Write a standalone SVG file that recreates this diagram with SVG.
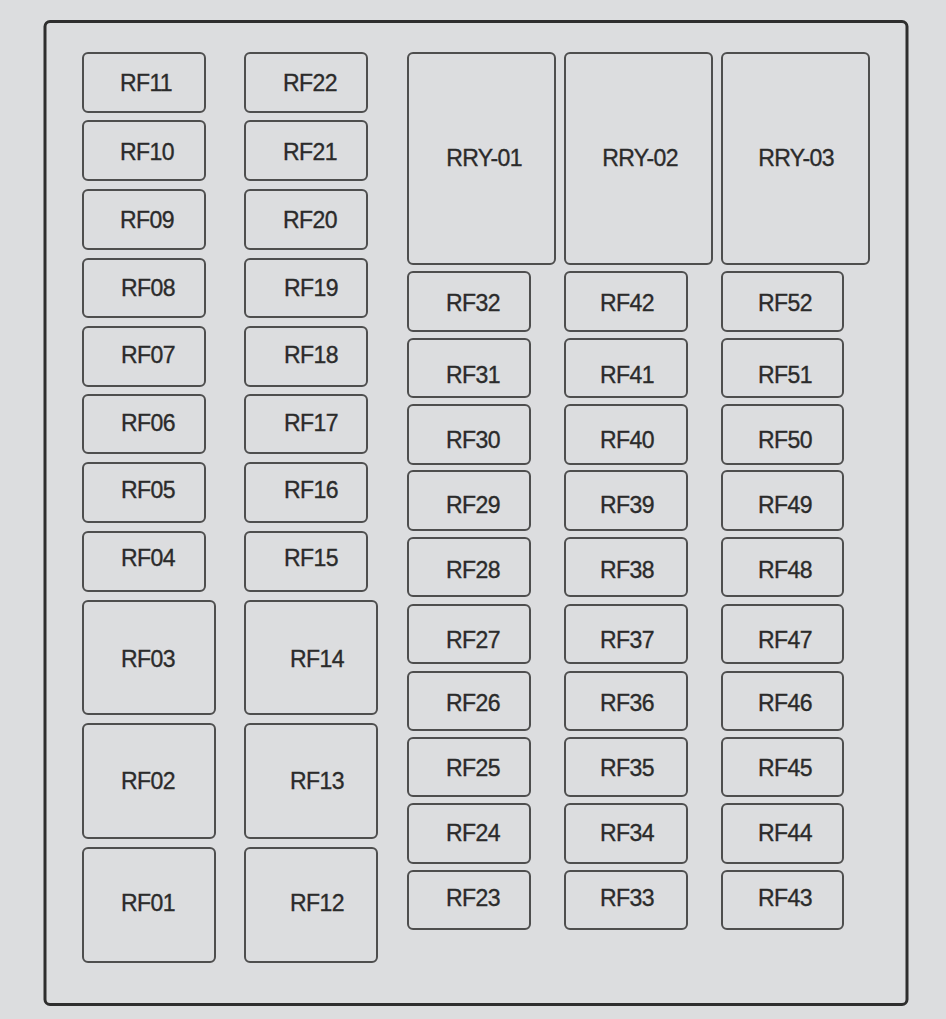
<svg xmlns="http://www.w3.org/2000/svg" width="946" height="1019" viewBox="0 0 946 1019">
<style>
.f{fill:#dcdddf;stroke:#4e4e4e;stroke-width:2}
.t{font-family:"Liberation Sans",Arial,sans-serif;font-size:23px;fill:#2b2b2b;stroke:#2b2b2b;stroke-width:0.35;text-anchor:middle;letter-spacing:-0.6px}
</style>
<rect x="0" y="0" width="946" height="1019" fill="#dcdddf"/>
<rect id="frame" x="45" y="21.5" width="862" height="983" rx="5" fill="#dcdddf" stroke="#2e2e2e" stroke-width="3"/>
<g id="RF11"><rect class="f" x="83" y="53" width="122" height="59" rx="5"/><text class="t" x="146" y="91">RF11</text></g>
<g id="RF10"><rect class="f" x="83" y="121" width="122" height="59" rx="5"/><text class="t" x="147" y="160">RF10</text></g>
<g id="RF09"><rect class="f" x="83" y="190" width="122" height="59" rx="5"/><text class="t" x="147" y="228">RF09</text></g>
<g id="RF08"><rect class="f" x="83" y="259" width="122" height="58" rx="5"/><text class="t" x="148" y="296">RF08</text></g>
<g id="RF07"><rect class="f" x="83" y="327" width="122" height="59" rx="5"/><text class="t" x="148" y="363">RF07</text></g>
<g id="RF06"><rect class="f" x="83" y="395" width="122" height="58" rx="5"/><text class="t" x="148" y="431">RF06</text></g>
<g id="RF05"><rect class="f" x="83" y="463" width="122" height="59" rx="5"/><text class="t" x="148" y="498">RF05</text></g>
<g id="RF04"><rect class="f" x="83" y="532" width="122" height="59" rx="5"/><text class="t" x="148" y="566">RF04</text></g>
<g id="RF03"><rect class="f" x="83" y="601" width="132" height="113" rx="5"/><text class="t" x="148" y="667">RF03</text></g>
<g id="RF02"><rect class="f" x="83" y="724" width="132" height="114" rx="5"/><text class="t" x="148" y="789">RF02</text></g>
<g id="RF01"><rect class="f" x="83" y="848" width="132" height="114" rx="5"/><text class="t" x="148" y="911">RF01</text></g>
<g id="RF22"><rect class="f" x="245" y="53" width="122" height="59" rx="5"/><text class="t" x="310" y="91">RF22</text></g>
<g id="RF21"><rect class="f" x="245" y="121" width="122" height="59" rx="5"/><text class="t" x="310" y="160">RF21</text></g>
<g id="RF20"><rect class="f" x="245" y="190" width="122" height="59" rx="5"/><text class="t" x="310" y="228">RF20</text></g>
<g id="RF19"><rect class="f" x="245" y="259" width="122" height="58" rx="5"/><text class="t" x="311" y="296">RF19</text></g>
<g id="RF18"><rect class="f" x="245" y="327" width="122" height="59" rx="5"/><text class="t" x="311" y="363">RF18</text></g>
<g id="RF17"><rect class="f" x="245" y="395" width="122" height="58" rx="5"/><text class="t" x="311" y="431">RF17</text></g>
<g id="RF16"><rect class="f" x="245" y="463" width="122" height="59" rx="5"/><text class="t" x="311" y="498">RF16</text></g>
<g id="RF15"><rect class="f" x="245" y="532" width="122" height="59" rx="5"/><text class="t" x="311" y="566">RF15</text></g>
<g id="RF14"><rect class="f" x="245" y="601" width="132" height="113" rx="5"/><text class="t" x="317" y="667">RF14</text></g>
<g id="RF13"><rect class="f" x="245" y="724" width="132" height="114" rx="5"/><text class="t" x="317" y="789">RF13</text></g>
<g id="RF12"><rect class="f" x="245" y="848" width="132" height="114" rx="5"/><text class="t" x="317" y="911">RF12</text></g>
<g id="RRY-01"><rect class="f" x="408" y="53" width="147" height="211" rx="5"/><text class="t" x="484" y="166">RRY-01</text></g>
<g id="RRY-02"><rect class="f" x="565" y="53" width="147" height="211" rx="5"/><text class="t" x="640" y="166">RRY-02</text></g>
<g id="RRY-03"><rect class="f" x="722" y="53" width="147" height="211" rx="5"/><text class="t" x="796" y="166">RRY-03</text></g>
<g id="RF32"><rect class="f" x="408" y="272" width="122" height="59" rx="5"/><text class="t" x="473" y="311">RF32</text></g>
<g id="RF31"><rect class="f" x="408" y="339" width="122" height="58" rx="5"/><text class="t" x="473" y="383">RF31</text></g>
<g id="RF30"><rect class="f" x="408" y="405" width="122" height="59" rx="5"/><text class="t" x="473" y="448">RF30</text></g>
<g id="RF29"><rect class="f" x="408" y="471" width="122" height="59" rx="5"/><text class="t" x="473" y="513">RF29</text></g>
<g id="RF28"><rect class="f" x="408" y="538" width="122" height="58" rx="5"/><text class="t" x="473" y="578">RF28</text></g>
<g id="RF27"><rect class="f" x="408" y="605" width="122" height="58" rx="5"/><text class="t" x="473" y="648">RF27</text></g>
<g id="RF26"><rect class="f" x="408" y="672" width="122" height="58" rx="5"/><text class="t" x="473" y="711">RF26</text></g>
<g id="RF25"><rect class="f" x="408" y="738" width="122" height="58" rx="5"/><text class="t" x="473" y="776">RF25</text></g>
<g id="RF24"><rect class="f" x="408" y="804" width="122" height="59" rx="5"/><text class="t" x="473" y="841">RF24</text></g>
<g id="RF23"><rect class="f" x="408" y="871" width="122" height="58" rx="5"/><text class="t" x="473" y="906">RF23</text></g>
<g id="RF42"><rect class="f" x="565" y="272" width="122" height="59" rx="5"/><text class="t" x="627" y="311">RF42</text></g>
<g id="RF41"><rect class="f" x="565" y="339" width="122" height="58" rx="5"/><text class="t" x="627" y="383">RF41</text></g>
<g id="RF40"><rect class="f" x="565" y="405" width="122" height="59" rx="5"/><text class="t" x="627" y="448">RF40</text></g>
<g id="RF39"><rect class="f" x="565" y="471" width="122" height="59" rx="5"/><text class="t" x="627" y="513">RF39</text></g>
<g id="RF38"><rect class="f" x="565" y="538" width="122" height="58" rx="5"/><text class="t" x="627" y="578">RF38</text></g>
<g id="RF37"><rect class="f" x="565" y="605" width="122" height="58" rx="5"/><text class="t" x="627" y="648">RF37</text></g>
<g id="RF36"><rect class="f" x="565" y="672" width="122" height="58" rx="5"/><text class="t" x="627" y="711">RF36</text></g>
<g id="RF35"><rect class="f" x="565" y="738" width="122" height="58" rx="5"/><text class="t" x="627" y="776">RF35</text></g>
<g id="RF34"><rect class="f" x="565" y="804" width="122" height="59" rx="5"/><text class="t" x="627" y="841">RF34</text></g>
<g id="RF33"><rect class="f" x="565" y="871" width="122" height="58" rx="5"/><text class="t" x="627" y="906">RF33</text></g>
<g id="RF52"><rect class="f" x="722" y="272" width="121" height="59" rx="5"/><text class="t" x="785" y="311">RF52</text></g>
<g id="RF51"><rect class="f" x="722" y="339" width="121" height="58" rx="5"/><text class="t" x="785" y="383">RF51</text></g>
<g id="RF50"><rect class="f" x="722" y="405" width="121" height="59" rx="5"/><text class="t" x="785" y="448">RF50</text></g>
<g id="RF49"><rect class="f" x="722" y="471" width="121" height="59" rx="5"/><text class="t" x="785" y="513">RF49</text></g>
<g id="RF48"><rect class="f" x="722" y="538" width="121" height="58" rx="5"/><text class="t" x="785" y="578">RF48</text></g>
<g id="RF47"><rect class="f" x="722" y="605" width="121" height="58" rx="5"/><text class="t" x="785" y="648">RF47</text></g>
<g id="RF46"><rect class="f" x="722" y="672" width="121" height="58" rx="5"/><text class="t" x="785" y="711">RF46</text></g>
<g id="RF45"><rect class="f" x="722" y="738" width="121" height="58" rx="5"/><text class="t" x="785" y="776">RF45</text></g>
<g id="RF44"><rect class="f" x="722" y="804" width="121" height="59" rx="5"/><text class="t" x="785" y="841">RF44</text></g>
<g id="RF43"><rect class="f" x="722" y="871" width="121" height="58" rx="5"/><text class="t" x="785" y="906">RF43</text></g>
<g id="connectors"></g>
</svg>
